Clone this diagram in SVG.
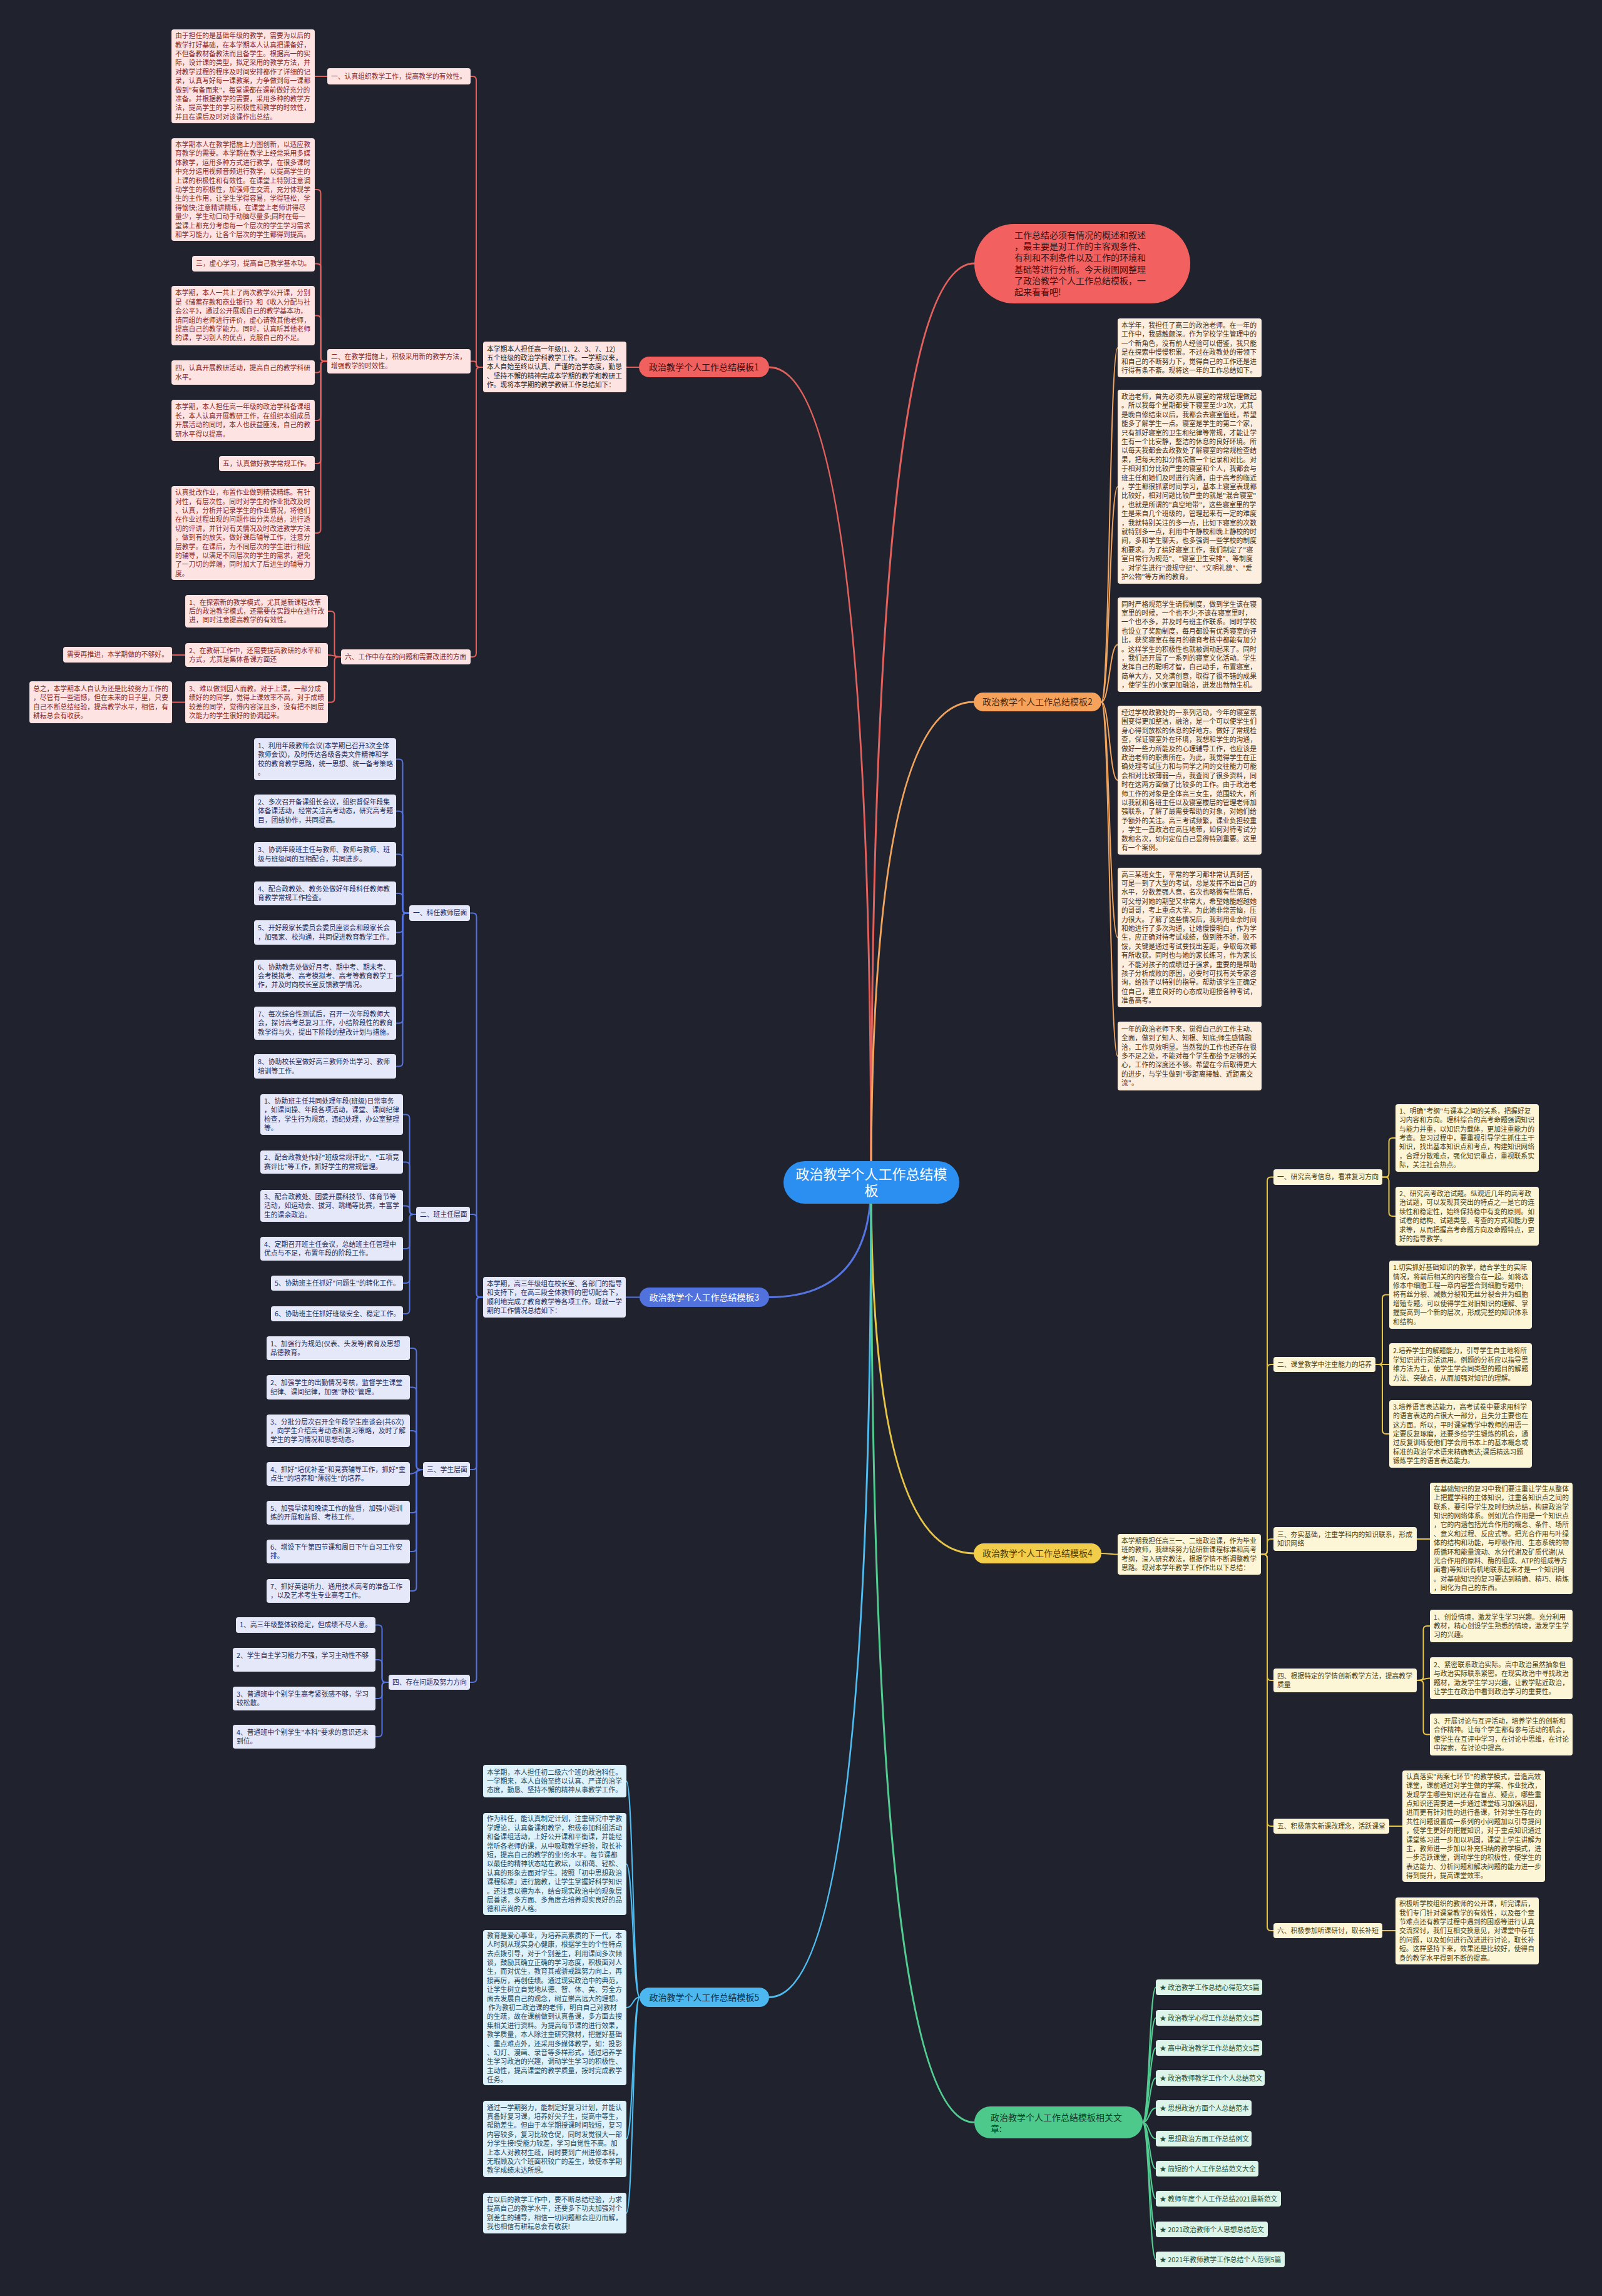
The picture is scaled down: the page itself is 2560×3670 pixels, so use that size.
<svg xmlns="http://www.w3.org/2000/svg" width="2560" height="3670" viewBox="0 0 2560 3670">
<style>
text{font-family:"Noto Sans CJK SC","Noto Sans",sans-serif;}
.f{font-size:10.8px;}
.pt{font-size:14px;}
.c{fill:none;stroke-width:2;stroke-linecap:round;}
.m{fill:none;stroke-width:3;stroke-linecap:round;}
.n1{fill:#fde4e3;}.t1{fill:#8a2a2a;}.c1{stroke:#e2615d;}
.n2{fill:#fdefdf;}.t2{fill:#4b2f16;}.c2{stroke:#f0a45e;}
.n3{fill:#e5e8f8;}.t3{fill:#1f2c5c;}.c3{stroke:#5674e0;}
.n4{fill:#fcf5d6;}.t4{fill:#4d4114;}.c4{stroke:#e6c548;}
.n5{fill:#ddf2fb;}.t5{fill:#24485e;}.c5{stroke:#4fbdf0;}
.n6{fill:#dcf5e8;}.t6{fill:#1f4d37;}.c6{stroke:#52cc90;}
</style>
<rect width="2560" height="3670" fill="#20232e"/>

<g id="connectors">
<path class="m c1" d="M1392,1890 Q1392,421 1557,421"/>
<path class="m c1" d="M1392,1890 Q1392,587 1229,587"/>
<path class="m c2" d="M1392,1890 Q1392,1122 1556,1122"/>
<path class="m c3" d="M1392,1890 Q1392,2073.5 1229,2073.5"/>
<path class="m c4" d="M1392,1890 Q1392,2483 1556,2483"/>
<path class="m c5" d="M1392,1890 Q1392,3192.5 1229,3192.5"/>
<path class="m c6" d="M1392,1890 Q1392,3392.5 1557,3392.5"/>

<path class="c c1" d="M1021,587 H1001"/>
<path class="c c1" d="M772,587 H767 Q761,587 761,581 V128 Q761,122 755,122 H752"/>
<path class="c c1" d="M772,587 H765 Q761,587 761,583 V581.5 Q761,577.5 757,577.5 H752"/>
<path class="c c1" d="M772,587 H767 Q761,587 761,593 V1044 Q761,1050 755,1050 H752"/>
<path class="c c1" d="M523,122 H503"/>
<path class="c c1" d="M523,577.5 H518.5 Q512.5,577.5 512.5,571.5 V309 Q512.5,303 506.5,303 H503"/>
<path class="c c1" d="M523,577.5 H518.5 Q512.5,577.5 512.5,571.5 V427.5 Q512.5,421.5 506.5,421.5 H503"/>
<path class="c c1" d="M523,577.5 H518.5 Q512.5,577.5 512.5,571.5 V510.5 Q512.5,504.5 506.5,504.5 H503"/>
<path class="c c1" d="M523,577.5 H518.5 Q512.5,577.5 512.5,583.5 V589.5 Q512.5,595.5 506.5,595.5 H503"/>
<path class="c c1" d="M523,577.5 H518.5 Q512.5,577.5 512.5,583.5 V666 Q512.5,672 506.5,672 H503"/>
<path class="c c1" d="M523,577.5 H518.5 Q512.5,577.5 512.5,583.5 V735 Q512.5,741 506.5,741 H503"/>
<path class="c c1" d="M523,577.5 H518.5 Q512.5,577.5 512.5,583.5 V846 Q512.5,852 506.5,852 H503"/>
<path class="c c1" d="M545,1050 H540.5 Q534.5,1050 534.5,1044 V983 Q534.5,977 528.5,977 H524"/>
<path class="c c1" d="M545,1050 C534.5,1050 534.5,1047 524,1047"/>
<path class="c c1" d="M545,1050 H540.5 Q534.5,1050 534.5,1056 V1116.5 Q534.5,1122.5 528.5,1122.5 H524"/>
<path class="c c1" d="M296,1047 H275"/>
<path class="c c1" d="M296,1122.5 H275"/>

<path class="c c2" d="M1760,1122 C1773,1122 1773,556 1786,556"/>
<path class="c c2" d="M1760,1122 C1773,1122 1773,778 1786,778"/>
<path class="c c2" d="M1760,1122 C1773,1122 1773,1030.5 1786,1030.5"/>
<path class="c c2" d="M1760,1122 C1773,1122 1773,1247 1786,1247"/>
<path class="c c2" d="M1760,1122 C1773,1122 1773,1498.5 1786,1498.5"/>
<path class="c c2" d="M1760,1122 C1773,1122 1773,1688 1786,1688"/>

<path class="c c3" d="M1022,2073.5 H1000"/>
<path class="c c3" d="M772,2073.5 H767.5 Q761.5,2073.5 761.5,2067.5 V1465.5 Q761.5,1459.5 755.5,1459.5 H751"/>
<path class="c c3" d="M772,2073.5 H767.5 Q761.5,2073.5 761.5,2067.5 V1947 Q761.5,1941 755.5,1941 H751"/>
<path class="c c3" d="M772,2073.5 H767.5 Q761.5,2073.5 761.5,2079.5 V2343 Q761.5,2349 755.5,2349 H751"/>
<path class="c c3" d="M772,2073.5 H767.5 Q761.5,2073.5 761.5,2079.5 V2683 Q761.5,2689 755.5,2689 H751"/>
<path class="c c3" d="M654,1459.5 H649.5 Q643.5,1459.5 643.5,1453.5 V1219.5 Q643.5,1213.5 637.5,1213.5 H633"/>
<path class="c c3" d="M654,1459.5 H649.5 Q643.5,1459.5 643.5,1453.5 V1302.5 Q643.5,1296.5 637.5,1296.5 H633"/>
<path class="c c3" d="M654,1459.5 H649.5 Q643.5,1459.5 643.5,1453.5 V1371.5 Q643.5,1365.5 637.5,1365.5 H633"/>
<path class="c c3" d="M654,1459.5 H649.5 Q643.5,1459.5 643.5,1453.5 V1434 Q643.5,1428 637.5,1428 H633"/>
<path class="c c3" d="M654,1459.5 H649.5 Q643.5,1459.5 643.5,1465.5 V1484.5 Q643.5,1490.5 637.5,1490.5 H633"/>
<path class="c c3" d="M654,1459.5 H649.5 Q643.5,1459.5 643.5,1465.5 V1554 Q643.5,1560 637.5,1560 H633"/>
<path class="c c3" d="M654,1459.5 H649.5 Q643.5,1459.5 643.5,1465.5 V1629.5 Q643.5,1635.5 637.5,1635.5 H633"/>
<path class="c c3" d="M654,1459.5 H649.5 Q643.5,1459.5 643.5,1465.5 V1698.5 Q643.5,1704.5 637.5,1704.5 H633"/>
<path class="c c3" d="M665,1941 H660.5 Q654.5,1941 654.5,1935 V1787.5 Q654.5,1781.5 648.5,1781.5 H644"/>
<path class="c c3" d="M665,1941 H660.5 Q654.5,1941 654.5,1935 V1863.5 Q654.5,1857.5 648.5,1857.5 H644"/>
<path class="c c3" d="M665,1941 H660.5 Q654.5,1941 654.5,1935 V1933.5 Q654.5,1927.5 648.5,1927.5 H644"/>
<path class="c c3" d="M665,1941 H660.5 Q654.5,1941 654.5,1947 V1990 Q654.5,1996 648.5,1996 H644"/>
<path class="c c3" d="M665,1941 H660.5 Q654.5,1941 654.5,1947 V2045 Q654.5,2051 648.5,2051 H644"/>
<path class="c c3" d="M665,1941 H660.5 Q654.5,1941 654.5,1947 V2094 Q654.5,2100 648.5,2100 H644"/>
<path class="c c3" d="M676,2349 H671.5 Q665.5,2349 665.5,2343 V2161 Q665.5,2155 659.5,2155 H655"/>
<path class="c c3" d="M676,2349 H671.5 Q665.5,2349 665.5,2343 V2223.5 Q665.5,2217.5 659.5,2217.5 H655"/>
<path class="c c3" d="M676,2349 H671.5 Q665.5,2349 665.5,2343 V2293 Q665.5,2287 659.5,2287 H655"/>
<path class="c c3" d="M676,2349 C665.5,2349 665.5,2356 655,2356"/>
<path class="c c3" d="M676,2349 H671.5 Q665.5,2349 665.5,2355 V2412 Q665.5,2418 659.5,2418 H655"/>
<path class="c c3" d="M676,2349 H671.5 Q665.5,2349 665.5,2355 V2474 Q665.5,2480 659.5,2480 H655"/>
<path class="c c3" d="M676,2349 H671.5 Q665.5,2349 665.5,2355 V2537 Q665.5,2543 659.5,2543 H655"/>
<path class="c c3" d="M621,2689 H616.5 Q610.5,2689 610.5,2683 V2603.5 Q610.5,2597.5 604.5,2597.5 H600"/>
<path class="c c3" d="M621,2689 H616.5 Q610.5,2689 610.5,2683 V2659 Q610.5,2653 604.5,2653 H600"/>
<path class="c c3" d="M621,2689 H616.5 Q610.5,2689 610.5,2695 V2709 Q610.5,2715 604.5,2715 H600"/>
<path class="c c3" d="M621,2689 H616.5 Q610.5,2689 610.5,2695 V2770 Q610.5,2776 604.5,2776 H600"/>

<path class="c c4" d="M1760,2483 C1773,2483 1773,2484.5 1786,2484.5"/>
<path class="c c4" d="M2015,2484.5 H2019 Q2025,2484.5 2025,2478.5 V1887.5 Q2025,1881.5 2031,1881.5 H2035"/>
<path class="c c4" d="M2015,2484.5 H2019 Q2025,2484.5 2025,2478.5 V2187 Q2025,2181 2031,2181 H2035"/>
<path class="c c4" d="M2015,2484.5 H2019 Q2025,2484.5 2025,2478.5 V2466 Q2025,2460 2031,2460 H2035"/>
<path class="c c4" d="M2015,2484.5 H2019 Q2025,2484.5 2025,2490.5 V2680 Q2025,2686 2031,2686 H2035"/>
<path class="c c4" d="M2015,2484.5 H2019 Q2025,2484.5 2025,2490.5 V2913 Q2025,2919 2031,2919 H2035"/>
<path class="c c4" d="M2015,2484.5 H2019 Q2025,2484.5 2025,2490.5 V3080 Q2025,3086 2031,3086 H2035"/>
<path class="c c4" d="M2209,1881.5 H2213.5 Q2219.5,1881.5 2219.5,1875.5 V1825 Q2219.5,1819 2225.5,1819 H2230"/>
<path class="c c4" d="M2209,1881.5 H2213.5 Q2219.5,1881.5 2219.5,1887.5 V1938 Q2219.5,1944 2225.5,1944 H2230"/>
<path class="c c4" d="M2198,2181 H2203 Q2209,2181 2209,2175 V2075.5 Q2209,2069.5 2215,2069.5 H2220"/>
<path class="c c4" d="M2198,2181 H2220"/>
<path class="c c4" d="M2198,2181 H2203 Q2209,2181 2209,2187 V2286 Q2209,2292 2215,2292 H2220"/>
<path class="c c4" d="M2264,2460 H2285"/>
<path class="c c4" d="M2264,2686 H2268.5 Q2274.5,2686 2274.5,2680 V2605 Q2274.5,2599 2280.5,2599 H2285"/>
<path class="c c4" d="M2264,2686 C2274.5,2686 2274.5,2682.5 2285,2682.5"/>
<path class="c c4" d="M2264,2686 H2268.5 Q2274.5,2686 2274.5,2692 V2766.5 Q2274.5,2772.5 2280.5,2772.5 H2285"/>
<path class="c c4" d="M2220,2919 H2241"/>
<path class="c c4" d="M2209,3086 H2230"/>

<path class="c c5" d="M1022,3192.5 C1011.5,3192.5 1011.5,2847 1001,2847"/>
<path class="c c5" d="M1022,3192.5 C1011.5,3192.5 1011.5,2979.5 1001,2979.5"/>
<path class="c c5" d="M1022,3192.5 C1011.5,3192.5 1011.5,3209 1001,3209"/>
<path class="c c5" d="M1022,3192.5 C1011.5,3192.5 1011.5,3419 1001,3419"/>
<path class="c c5" d="M1022,3192.5 C1011.5,3192.5 1011.5,3537.5 1001,3537.5"/>

<path class="c c6" d="M1826,3392.5 C1836.5,3392.5 1836.5,3176.5 1847,3176.5"/>
<path class="c c6" d="M1826,3392.5 C1836.5,3392.5 1836.5,3225.5 1847,3225.5"/>
<path class="c c6" d="M1826,3392.5 C1836.5,3392.5 1836.5,3273.5 1847,3273.5"/>
<path class="c c6" d="M1826,3392.5 C1836.5,3392.5 1836.5,3321.5 1847,3321.5"/>
<path class="c c6" d="M1826,3392.5 C1836.5,3392.5 1836.5,3369.5 1847,3369.5"/>
<path class="c c6" d="M1826,3392.5 C1836.5,3392.5 1836.5,3418.5 1847,3418.5"/>
<path class="c c6" d="M1826,3392.5 C1836.5,3392.5 1836.5,3466.5 1847,3466.5"/>
<path class="c c6" d="M1826,3392.5 C1836.5,3392.5 1836.5,3514.5 1847,3514.5"/>
<path class="c c6" d="M1826,3392.5 C1836.5,3392.5 1836.5,3563.5 1847,3563.5"/>
<path class="c c6" d="M1826,3392.5 C1836.5,3392.5 1836.5,3611.5 1847,3611.5"/>
</g>

<g id="center"><rect x="1252" y="1856" width="281" height="68" rx="34" fill="#2a8ff0"/><text x="1392.5" y="1885" font-size="22" fill="#ffffff" text-anchor="middle"><tspan x="1392.5">政治教学个人工作总结模</tspan><tspan x="1392.5" dy="26">板</tspan></text></g>

<g id="intro-bubble"><rect x="1557" y="358" width="345" height="127" rx="63.5" fill="#f2615f"/><text class="pt" x="1621" y="381" fill="#3a1414"><tspan x="1621">工作总结必须有情况的概述和叙述</tspan><tspan x="1621" dy="18.2">，最主要是对工作的主客观条件、</tspan><tspan x="1621" dy="18.2">有利和不利条件以及工作的环境和</tspan><tspan x="1621" dy="18.2">基础等进行分析。今天树图网整理</tspan><tspan x="1621" dy="18.2">了政治教学个人工作总结模板，一</tspan><tspan x="1621" dy="18.2">起来看看吧!</tspan></text></g>

<!-- Branch 1 -->
<g id="b1"><rect x="1021" y="570" width="208" height="33" rx="16.5" fill="#f0605e"/><text class="pt" x="1125" y="591.5" fill="#3a1010" text-anchor="middle">政治教学个人工作总结模板1</text></g>
<g id="b1-intro"><rect class="n1" x="772" y="546" width="229" height="81" rx="4"/><text class="f" fill="#262626" x="778" y="561.6"><tspan x="778">本学期本人担任高一年级(1、2、3、7、12)</tspan><tspan x="778" dy="14.4">五个班级的政治学科教学工作。一学期以来，</tspan><tspan x="778" dy="14.4">本人自始至终以认真、严谨的治学态度，勤恳</tspan><tspan x="778" dy="14.4">、坚持不懈的精神完成本学期的教学和教研工</tspan><tspan x="778" dy="14.4">作。现将本学期的教学教研工作总结如下：</tspan></text></g>
<g id="b1-s1"><rect class="n1" x="523" y="109" width="229" height="26" rx="4"/><text class="f t1" x="529" y="125.9">一、认真组织教学工作，提高教学的有效性。</text></g>
<g id="b1-l1"><rect class="n1" x="274" y="47" width="229" height="150" rx="4"/><text class="f t1" x="280" y="61.1"><tspan x="280">由于担任的是基础年级的教学，需要为以后的</tspan><tspan x="280" dy="14.4">教学打好基础，在本学期本人认真把课备好，</tspan><tspan x="280" dy="14.4">不但备教材备教法而且备学生。根据高一的实</tspan><tspan x="280" dy="14.4">际，设计课的类型，拟定采用的教学方法，并</tspan><tspan x="280" dy="14.4">对教学过程的程序及时间安排都作了详细的记</tspan><tspan x="280" dy="14.4">录，认真写好每一课教案，力争做到每一课都</tspan><tspan x="280" dy="14.4">做到"有备而来"，每堂课都在课前做好充分的</tspan><tspan x="280" dy="14.4">准备。并根据教学的需要，采用多种的教学方</tspan><tspan x="280" dy="14.4">法，提高学生的学习积极性和教学的时效性，</tspan><tspan x="280" dy="14.4">并且在课后及时对该课作出总结。</tspan></text></g>
<g id="b1-s2"><rect class="n1" x="523" y="558" width="229" height="39" rx="4"/><text class="f t1" x="529" y="574.2"><tspan x="529">二、在教学措施上，积极采用新的教学方法，</tspan><tspan x="529" dy="14.4">增强教学的时效性。</tspan></text></g>
<g id="b1-l2a"><rect class="n1" x="274" y="221" width="229" height="164" rx="4"/><text class="f t1" x="280" y="234.9"><tspan x="280">本学期本人在教学措施上力图创新，以适应教</tspan><tspan x="280" dy="14.4">育教学的需要。本学期在教学上经常采用多媒</tspan><tspan x="280" dy="14.4">体教学，运用多种方式进行教学，在很多课时</tspan><tspan x="280" dy="14.4">中充分运用视频音频进行教学，以提高学生的</tspan><tspan x="280" dy="14.4">上课的积极性和有效性。在课堂上特别注意调</tspan><tspan x="280" dy="14.4">动学生的积极性，加强师生交流，充分体现学</tspan><tspan x="280" dy="14.4">生的主作用，让学生学得容易，学得轻松，学</tspan><tspan x="280" dy="14.4">得愉快;注意精讲精练，在课堂上老师讲得尽</tspan><tspan x="280" dy="14.4">量少，学生动口动手动脑尽量多;同时在每一</tspan><tspan x="280" dy="14.4">堂课上都充分考虑每一个层次的学生学习需求</tspan><tspan x="280" dy="14.4">和学习能力，让各个层次的学生都得到提高。</tspan></text></g>
<g id="b1-l2b"><rect class="n1" x="307" y="409" width="196" height="25" rx="4"/><text class="f t1" x="313" y="425.4">三，虚心学习，提高自己教学基本功。</text></g>
<g id="b1-l2c"><rect class="n1" x="274" y="457" width="229" height="95" rx="4"/><text class="f t1" x="280" y="472.4"><tspan x="280">本学期，本人一共上了两次教学公开课，分别</tspan><tspan x="280" dy="14.4">是《储蓄存款和商业银行》和《收入分配与社</tspan><tspan x="280" dy="14.4">会公平》，通过公开展现自己的教学基本功，</tspan><tspan x="280" dy="14.4">请同组的老师进行评价，虚心请教其他老师，</tspan><tspan x="280" dy="14.4">提高自己的教学能力。同时，认真听其他老师</tspan><tspan x="280" dy="14.4">的课，学习别人的优点，克服自己的不足。</tspan></text></g>
<g id="b1-l2d"><rect class="n1" x="274" y="576" width="229" height="39" rx="4"/><text class="f t1" x="280" y="592.2"><tspan x="280">四，认真开展教研活动，提高自己的教学科研</tspan><tspan x="280" dy="14.4">水平。</tspan></text></g>
<g id="b1-l2e"><rect class="n1" x="274" y="639" width="229" height="66" rx="4"/><text class="f t1" x="280" y="654.3"><tspan x="280">本学期，本人担任高一年级的政治学科备课组</tspan><tspan x="280" dy="14.4">长，本人认真开展教研工作，在组织本组成员</tspan><tspan x="280" dy="14.4">开展活动的同时，本人也获益匪浅，自己的教</tspan><tspan x="280" dy="14.4">研水平得以提高。</tspan></text></g>
<g id="b1-l2f"><rect class="n1" x="350" y="729" width="153" height="24" rx="4"/><text class="f t1" x="356" y="744.9">五，认真做好教学常规工作。</text></g>
<g id="b1-l2g"><rect class="n1" x="274" y="777" width="229" height="150" rx="4"/><text class="f t1" x="280" y="791.1"><tspan x="280">认真批改作业，布置作业做到精读精练。有针</tspan><tspan x="280" dy="14.4">对性，有层次性。同时对学生的作业批改及时</tspan><tspan x="280" dy="14.4">、认真，分析并记录学生的作业情况，将他们</tspan><tspan x="280" dy="14.4">在作业过程出现的问题作出分类总结，进行透</tspan><tspan x="280" dy="14.4">切的评讲，并针对有关情况及时改进教学方法</tspan><tspan x="280" dy="14.4">，做到有的放矢。做好课后辅导工作，注意分</tspan><tspan x="280" dy="14.4">层教学。在课后，为不同层次的学生进行相应</tspan><tspan x="280" dy="14.4">的辅导，以满足不同层次的学生的需求，避免</tspan><tspan x="280" dy="14.4">了一刀切的弊端，同时加大了后进生的辅导力</tspan><tspan x="280" dy="14.4">度。</tspan></text></g>
<g id="b1-s6"><rect class="n1" x="545" y="1038" width="207" height="24" rx="4"/><text class="f t1" x="551" y="1053.9">六、工作中存在的问题和需要改进的方面</text></g>
<g id="b1-p1"><rect class="n1" x="296" y="951" width="228" height="52" rx="4"/><text class="f t1" x="302" y="966.5"><tspan x="302">1、在探索新的教学模式，尤其是新课程改革</tspan><tspan x="302" dy="14.4">后的政治教学模式，还需要在实践中在进行改</tspan><tspan x="302" dy="14.4">进，同时注意提高教学的有效性。</tspan></text></g>
<g id="b1-p2"><rect class="n1" x="296" y="1028" width="228" height="38" rx="4"/><text class="f t1" x="302" y="1043.7"><tspan x="302">2、在教研工作中，还需要提高教研的水平和</tspan><tspan x="302" dy="14.4">方式，尤其是集体备课方面还</tspan></text></g>
<g id="b1-p3"><rect class="n1" x="296" y="1089" width="228" height="67" rx="4"/><text class="f t1" x="302" y="1104.8"><tspan x="302">3、难以做到因人而教。对于上课，一部分成</tspan><tspan x="302" dy="14.4">绩好的的同学，觉得上课效率不高，对于成绩</tspan><tspan x="302" dy="14.4">较差的同学，觉得内容深且多，没有把不同层</tspan><tspan x="302" dy="14.4">次能力的学生很好的协调起来。</tspan></text></g>
<g id="b1-p2c"><rect class="n1" x="101" y="1034" width="174" height="25" rx="4"/><text class="f t1" x="107" y="1050.4">需要再推进，本学期做的不够好。</text></g>
<g id="b1-p3c"><rect class="n1" x="47" y="1089" width="228" height="67" rx="4"/><text class="f t1" x="53" y="1104.8"><tspan x="53">总之，本学期本人自认为还是比较努力工作的</tspan><tspan x="53" dy="14.4">，尽管有一些遗憾，但在未来的日子里，只要</tspan><tspan x="53" dy="14.4">自己不断总结经验，提高教学水平，相信，有</tspan><tspan x="53" dy="14.4">耕耘总会有收获。</tspan></text></g>

<!-- Branch 2 -->
<g id="b2"><rect x="1556" y="1107" width="204" height="30" rx="15" fill="#f6a25a"/><text class="pt" x="1658" y="1127" fill="#4a2a10" text-anchor="middle">政治教学个人工作总结模板2</text></g>
<g id="b2-l1"><rect class="n2" x="1786" y="509" width="230" height="94" rx="4"/><text class="f t2" x="1792" y="523.9"><tspan x="1792">本学年，我担任了高三的政治老师。在一年的</tspan><tspan x="1792" dy="14.4">工作中，我感触颇深。作为学校学生管理中的</tspan><tspan x="1792" dy="14.4">一个新角色，没有前人经验可以借鉴，我只能</tspan><tspan x="1792" dy="14.4">是在探索中慢慢积累。不过在政教处的带领下</tspan><tspan x="1792" dy="14.4">和自己的不断努力下，觉得自己的工作还是进</tspan><tspan x="1792" dy="14.4">行得有条不紊。现将这一年的工作总结如下。</tspan></text></g>
<g id="b2-l2"><rect class="n2" x="1786" y="623" width="230" height="310" rx="4"/><text class="f t2" x="1792" y="637.9"><tspan x="1792">政治老师，首先必须先从寝室的常规管理做起</tspan><tspan x="1792" dy="14.4">。所以我每个星期都要下寝室至少3次，尤其</tspan><tspan x="1792" dy="14.4">是晚自修结束以后，我都会去寝室值班，希望</tspan><tspan x="1792" dy="14.4">能多了解学生一点。寝室是学生的第二个家，</tspan><tspan x="1792" dy="14.4">只有抓好寝室的卫生和纪律等常规，才能让学</tspan><tspan x="1792" dy="14.4">生有一个比安静，整洁的休息的良好环境。所</tspan><tspan x="1792" dy="14.4">以每天我都会去政教处了解寝室的常规检查结</tspan><tspan x="1792" dy="14.4">果，把每天的扣分情况做一个记录和对比。对</tspan><tspan x="1792" dy="14.4">于相对扣分比较严重的寝室和个人，我都会与</tspan><tspan x="1792" dy="14.4">班主任和她们及时进行沟通，由于高考的临近</tspan><tspan x="1792" dy="14.4">，学生都很抓紧时间学习，基本上寝室表现都</tspan><tspan x="1792" dy="14.4">比较好，相对问题比较严重的就是"混合寝室"</tspan><tspan x="1792" dy="14.4">，也就是所谓的"真空地带"，这些寝室里的学</tspan><tspan x="1792" dy="14.4">生是来自几个班级的，管理起来有一定的难度</tspan><tspan x="1792" dy="14.4">，我就特别关注的多一点，比如下寝室的次数</tspan><tspan x="1792" dy="14.4">就特别多一点，利用中午静校和晚上静校的时</tspan><tspan x="1792" dy="14.4">间，多和学生聊天，也多强调一些学校的制度</tspan><tspan x="1792" dy="14.4">和要求。为了搞好寝室工作，我们制定了"寝</tspan><tspan x="1792" dy="14.4">室日常行为规范"、"寝室卫生安排"、等制度</tspan><tspan x="1792" dy="14.4">。对学生进行"遵规守纪"、"文明礼貌"、"爱</tspan><tspan x="1792" dy="14.4">护公物"等方面的教育。</tspan></text></g>
<g id="b2-l3"><rect class="n2" x="1786" y="955" width="230" height="151" rx="4"/><text class="f t2" x="1792" y="969.6"><tspan x="1792">同时严格规范学生请假制度，做到学生该在寝</tspan><tspan x="1792" dy="14.4">室里的时候，一个也不少;不该在寝室里时，</tspan><tspan x="1792" dy="14.4">一个也不多，并及时与班主作联系。同时学校</tspan><tspan x="1792" dy="14.4">也设立了奖励制度，每月都设有优秀寝室的评</tspan><tspan x="1792" dy="14.4">比，获奖寝室在每月的德育考核中都能有加分</tspan><tspan x="1792" dy="14.4">。这样学生的积极性也就被调动起来了。同时</tspan><tspan x="1792" dy="14.4">，我们还开展了一系列的寝室文化活动。学生</tspan><tspan x="1792" dy="14.4">发挥自己的聪明才智，自己动手，布置寝室，</tspan><tspan x="1792" dy="14.4">简单大方，又充满创意，取得了很不错的成果</tspan><tspan x="1792" dy="14.4">，使学生的小家更加融洽，迸发出勃勃生机。</tspan></text></g>
<g id="b2-l4"><rect class="n2" x="1786" y="1128" width="230" height="238" rx="4"/><text class="f t2" x="1792" y="1142.9"><tspan x="1792">经过学校政教处的一系列活动，今年的寝室氛</tspan><tspan x="1792" dy="14.4">围变得更加整洁，融洽，是一个可以使学生们</tspan><tspan x="1792" dy="14.4">身心得到放松的休息的好地方。做好了常规检</tspan><tspan x="1792" dy="14.4">查，保证寝室外在环境，我想和学生的沟通，</tspan><tspan x="1792" dy="14.4">做好一些力所能及的心理辅导工作，也应该是</tspan><tspan x="1792" dy="14.4">政治老师的职责所在。为此，我觉得学生在正</tspan><tspan x="1792" dy="14.4">确处理考试压力和与同学之间的交往能力可能</tspan><tspan x="1792" dy="14.4">会相对比较薄弱一点，我查阅了很多资料，同</tspan><tspan x="1792" dy="14.4">时在这两方面做了比较多的工作。由于政治老</tspan><tspan x="1792" dy="14.4">师工作的对象是全体高三女生，范围较大，所</tspan><tspan x="1792" dy="14.4">以我就和各班主任以及寝室楼层的管理老师加</tspan><tspan x="1792" dy="14.4">强联系，了解了最需要帮助的对象，对她们给</tspan><tspan x="1792" dy="14.4">予额外的关注。高三考试频繁，课业负担较重</tspan><tspan x="1792" dy="14.4">，学生一直政治在高压地带，如何对待考试分</tspan><tspan x="1792" dy="14.4">数和名次，如何定位自己显得特别重要。这里</tspan><tspan x="1792" dy="14.4">有一个案例。</tspan></text></g>
<g id="b2-l5"><rect class="n2" x="1786" y="1387" width="230" height="223" rx="4"/><text class="f t2" x="1792" y="1401.6"><tspan x="1792">高三某班女生，平常的学习都非常认真刻苦，</tspan><tspan x="1792" dy="14.4">可是一到了大型的考试，总是发挥不出自己的</tspan><tspan x="1792" dy="14.4">水平，分数差强人意，名次也略微有些落后，</tspan><tspan x="1792" dy="14.4">可父母对她的期望又非常大，希望她能超越她</tspan><tspan x="1792" dy="14.4">的哥哥，考上重点大学。为此她非常苦恼，压</tspan><tspan x="1792" dy="14.4">力很大。了解了这些情况后，我利用业余时间</tspan><tspan x="1792" dy="14.4">和她进行了多次沟通，让她慢慢明白，作为学</tspan><tspan x="1792" dy="14.4">生，应正确对待考试成绩，做到胜不骄，败不</tspan><tspan x="1792" dy="14.4">馁，关键是通过考试要找出差距，争取每次都</tspan><tspan x="1792" dy="14.4">有所收获。同时也与她的家长练习，作为家长</tspan><tspan x="1792" dy="14.4">，不能对孩子的成绩过于强求，重要的是帮助</tspan><tspan x="1792" dy="14.4">孩子分析成败的原因，必要时可找有关专家咨</tspan><tspan x="1792" dy="14.4">询，给孩子以特别的指导。帮助该学生正确定</tspan><tspan x="1792" dy="14.4">位自己，建立良好的心态成功迎接各种考试，</tspan><tspan x="1792" dy="14.4">准备高考。</tspan></text></g>
<g id="b2-l6"><rect class="n2" x="1786" y="1633" width="230" height="110" rx="4"/><text class="f t2" x="1792" y="1648.7"><tspan x="1792">一年的政治老师下来，觉得自己的工作主动、</tspan><tspan x="1792" dy="14.4">全面，做到了知人、知根、知底;师生感情融</tspan><tspan x="1792" dy="14.4">洽，工作见效明显。当然我的工作也还存在很</tspan><tspan x="1792" dy="14.4">多不足之处，不能对每个学生都给予足够的关</tspan><tspan x="1792" dy="14.4">心，工作的深度还不够。希望在今后取得更大</tspan><tspan x="1792" dy="14.4">的进步，与学生做到"零距离接触、近距离交</tspan><tspan x="1792" dy="14.4">流"。</tspan></text></g>

<!-- Branch 3 -->
<g id="b3"><rect x="1022" y="2058" width="207" height="31" rx="15.5" fill="#5171dd"/><text class="pt" x="1125.5" y="2078.5" fill="#ffffff" text-anchor="middle">政治教学个人工作总结模板3</text></g>
<g id="b3-intro"><rect class="n3" x="772" y="2041" width="228" height="65" rx="4"/><text class="f t3" x="778" y="2055.8"><tspan x="778">本学期，高三年级组在校长室、各部门的指导</tspan><tspan x="778" dy="14.4">和支持下，在高三段全体教师的密切配合下，</tspan><tspan x="778" dy="14.4">顺利地完成了教育教学等各项工作。现就一学</tspan><tspan x="778" dy="14.4">期的工作情况总结如下：</tspan></text></g>
<g id="b3-s1"><rect class="n3" x="654" y="1447" width="97" height="25" rx="4"/><text class="f t3" x="660" y="1463.4">一、科任教师层面</text></g>
<g id="b3-s1-1"><rect class="n3" x="406" y="1180" width="227" height="67" rx="4"/><text class="f t3" x="412" y="1195.8"><tspan x="412">1、利用年段教师会议(本学期已召开3次全体</tspan><tspan x="412" dy="14.4">教师会议)，及时传达各级各类文件精神和学</tspan><tspan x="412" dy="14.4">校的教育教学思路，统一思想、统一备考策略</tspan><tspan x="412" dy="14.4">。</tspan></text></g>
<g id="b3-s1-2"><rect class="n3" x="406" y="1270" width="227" height="53" rx="4"/><text class="f t3" x="412" y="1286"><tspan x="412">2、多次召开备课组长会议，组织督促年段集</tspan><tspan x="412" dy="14.4">体备课活动，经常关注高考动态，研究高考题</tspan><tspan x="412" dy="14.4">目，团结协作，共同提高。</tspan></text></g>
<g id="b3-s1-3"><rect class="n3" x="406" y="1346" width="227" height="39" rx="4"/><text class="f t3" x="412" y="1362.2"><tspan x="412">3、协调年段班主任与教师、教师与教师、班</tspan><tspan x="412" dy="14.4">级与班级间的互相配合，共同进步。</tspan></text></g>
<g id="b3-s1-4"><rect class="n3" x="406" y="1409" width="227" height="38" rx="4"/><text class="f t3" x="412" y="1424.7"><tspan x="412">4、配合政教处、教务处做好年段科任教师教</tspan><tspan x="412" dy="14.4">育教学常规工作检查。</tspan></text></g>
<g id="b3-s1-5"><rect class="n3" x="406" y="1471" width="227" height="39" rx="4"/><text class="f t3" x="412" y="1487.2"><tspan x="412">5、开好段家长委员会委员座谈会和段家长会</tspan><tspan x="412" dy="14.4">，加强家、校沟通，共同促进教育教学工作。</tspan></text></g>
<g id="b3-s1-6"><rect class="n3" x="406" y="1534" width="227" height="52" rx="4"/><text class="f t3" x="412" y="1549.5"><tspan x="412">6、协助教务处做好月考、期中考、期末考、</tspan><tspan x="412" dy="14.4">会考模拟考、高考模拟考、高考等教育教学工</tspan><tspan x="412" dy="14.4">作，并及时向校长室反馈教学情况。</tspan></text></g>
<g id="b3-s1-7"><rect class="n3" x="406" y="1609" width="227" height="53" rx="4"/><text class="f t3" x="412" y="1625"><tspan x="412">7、每次综合性测试后，召开一次年段教师大</tspan><tspan x="412" dy="14.4">会，探讨高考总复习工作，小结阶段性的教育</tspan><tspan x="412" dy="14.4">教学得与失，提出下阶段的整改计划与措施。</tspan></text></g>
<g id="b3-s1-8"><rect class="n3" x="406" y="1685" width="227" height="39" rx="4"/><text class="f t3" x="412" y="1701.2"><tspan x="412">8、协助校长室做好高三教师外出学习、教师</tspan><tspan x="412" dy="14.4">培训等工作。</tspan></text></g>
<g id="b3-s2"><rect class="n3" x="665" y="1929" width="86" height="24" rx="4"/><text class="f t3" x="671" y="1944.9">二、班主任层面</text></g>
<g id="b3-s2-1"><rect class="n3" x="416" y="1749" width="228" height="65" rx="4"/><text class="f t3" x="422" y="1763.8"><tspan x="422">1、协助班主任共同处理年段(班级)日常事务</tspan><tspan x="422" dy="14.4">，如课间操、年段各项活动，课堂、课间纪律</tspan><tspan x="422" dy="14.4">检查，学生行为规范，违纪处理，办公室整理</tspan><tspan x="422" dy="14.4">等。</tspan></text></g>
<g id="b3-s2-2"><rect class="n3" x="416" y="1839" width="228" height="37" rx="4"/><text class="f t3" x="422" y="1854.2"><tspan x="422">2、配合政教处作好"班级常规评比"、"五项竞</tspan><tspan x="422" dy="14.4">赛评比"等工作，抓好学生的常规管理。</tspan></text></g>
<g id="b3-s2-3"><rect class="n3" x="416" y="1902" width="228" height="51" rx="4"/><text class="f t3" x="422" y="1917"><tspan x="422">3、配合政教处、团委开展科技节、体育节等</tspan><tspan x="422" dy="14.4">活动，如运动会、拔河、跳绳等比赛，丰富学</tspan><tspan x="422" dy="14.4">生的课余政治。</tspan></text></g>
<g id="b3-s2-4"><rect class="n3" x="416" y="1977" width="228" height="38" rx="4"/><text class="f t3" x="422" y="1992.7"><tspan x="422">4、定期召开班主任会议，总结班主任管理中</tspan><tspan x="422" dy="14.4">优点与不足，布置年段的阶段工作。</tspan></text></g>
<g id="b3-s2-5"><rect class="n3" x="433" y="2039" width="211" height="24" rx="4"/><text class="f t3" x="439" y="2054.9">5、协助班主任抓好"问题生"的转化工作。</text></g>
<g id="b3-s2-6"><rect class="n3" x="433" y="2088" width="211" height="24" rx="4"/><text class="f t3" x="439" y="2103.9">6、协助班主任抓好班级安全、稳定工作。</text></g>
<g id="b3-s3"><rect class="n3" x="676" y="2337" width="75" height="24" rx="4"/><text class="f t3" x="682" y="2352.9">三、学生层面</text></g>
<g id="b3-s3-1"><rect class="n3" x="426" y="2136" width="229" height="38" rx="4"/><text class="f t3" x="432" y="2151.7"><tspan x="432">1、加强行为规范(仪表、头发等)教育及思想</tspan><tspan x="432" dy="14.4">品德教育。</tspan></text></g>
<g id="b3-s3-2"><rect class="n3" x="426" y="2198" width="229" height="39" rx="4"/><text class="f t3" x="432" y="2214.2"><tspan x="432">2、加强学生的出勤情况考核，监督学生课堂</tspan><tspan x="432" dy="14.4">纪律、课间纪律，加强"静校"管理。</tspan></text></g>
<g id="b3-s3-3"><rect class="n3" x="426" y="2261" width="229" height="52" rx="4"/><text class="f t3" x="432" y="2276.5"><tspan x="432">3、分批分层次召开全年段学生座谈会(共6次)</tspan><tspan x="432" dy="14.4">，向学生介绍高考动态和复习策略，及时了解</tspan><tspan x="432" dy="14.4">学生的学习情况和思想动态。</tspan></text></g>
<g id="b3-s3-4"><rect class="n3" x="426" y="2337" width="229" height="38" rx="4"/><text class="f t3" x="432" y="2352.7"><tspan x="432">4、抓好"培优补差"和竞赛辅导工作，抓好"重</tspan><tspan x="432" dy="14.4">点生"的培养和"薄弱生"的培养。</tspan></text></g>
<g id="b3-s3-5"><rect class="n3" x="426" y="2399" width="229" height="38" rx="4"/><text class="f t3" x="432" y="2414.7"><tspan x="432">5、加强早读和晚读工作的监督，加强小题训</tspan><tspan x="432" dy="14.4">练的开展和监督、考核工作。</tspan></text></g>
<g id="b3-s3-6"><rect class="n3" x="426" y="2461" width="229" height="38" rx="4"/><text class="f t3" x="432" y="2476.7"><tspan x="432">6、增设下午第四节课和周日下午自习工作安</tspan><tspan x="432" dy="14.4">排。</tspan></text></g>
<g id="b3-s3-7"><rect class="n3" x="426" y="2524" width="229" height="38" rx="4"/><text class="f t3" x="432" y="2539.7"><tspan x="432">7、抓好英语听力、通用技术高考的准备工作</tspan><tspan x="432" dy="14.4">，以及艺术考生专业高考工作。</tspan></text></g>
<g id="b3-s4"><rect class="n3" x="621" y="2677" width="130" height="24" rx="4"/><text class="f t3" x="627" y="2692.9">四、存在问题及努力方向</text></g>
<g id="b3-s4-1"><rect class="n3" x="377" y="2585" width="223" height="25" rx="4"/><text class="f t3" x="383" y="2601.4">1、高三年级整体较稳定，但成绩不尽人意。</text></g>
<g id="b3-s4-2"><rect class="n3" x="372" y="2634" width="228" height="38" rx="4"/><text class="f t3" x="378" y="2649.7"><tspan x="378">2、学生自主学习能力不强，学习主动性不够</tspan><tspan x="378" dy="14.4">。</tspan></text></g>
<g id="b3-s4-3"><rect class="n3" x="372" y="2696" width="228" height="38" rx="4"/><text class="f t3" x="378" y="2711.7"><tspan x="378">3、普通班中个别学生高考紧张感不够，学习</tspan><tspan x="378" dy="14.4">较松散。</tspan></text></g>
<g id="b3-s4-4"><rect class="n3" x="372" y="2757" width="228" height="38" rx="4"/><text class="f t3" x="378" y="2772.7"><tspan x="378">4、普通班中个别学生"本科"要求的意识还未</tspan><tspan x="378" dy="14.4">到位。</tspan></text></g>

<!-- Branch 4 -->
<g id="b4"><rect x="1556" y="2467" width="204" height="32" rx="16" fill="#f2cd4a"/><text class="pt" x="1658" y="2488" fill="#4a3a00" text-anchor="middle">政治教学个人工作总结模板4</text></g>
<g id="b4-intro"><rect class="n4" x="1786" y="2452" width="229" height="65" rx="4"/><text class="f t4" x="1792" y="2466.8"><tspan x="1792">本学期我担任高三一、二班政治课，作为毕业</tspan><tspan x="1792" dy="14.4">班的教师，我继续努力钻研新课程标准和高考</tspan><tspan x="1792" dy="14.4">考纲，深入研究教法，根据学情不断调整教学</tspan><tspan x="1792" dy="14.4">思路。现对本学年教学工作作出以下总结：</tspan></text></g>
<g id="b4-s1"><rect class="n4" x="2035" y="1869" width="174" height="25" rx="4"/><text class="f t4" x="2041" y="1885.4">一、研究高考信息，看准复习方向</text></g>
<g id="b4-s1-1"><rect class="n4" x="2230" y="1765" width="229" height="108" rx="4"/><text class="f t4" x="2236" y="1779.7"><tspan x="2236">1、明确"考纲"与课本之间的关系，把握好复</tspan><tspan x="2236" dy="14.4">习内容和方向。理科综合的高考命题强调知识</tspan><tspan x="2236" dy="14.4">与能力并重，以知识为载体，更加注重能力的</tspan><tspan x="2236" dy="14.4">考查。复习过程中，要重视引导学生抓住主干</tspan><tspan x="2236" dy="14.4">知识，找出基本知识点和考点，构建知识网络</tspan><tspan x="2236" dy="14.4">，合理分散难点，强化知识重点，重视联系实</tspan><tspan x="2236" dy="14.4">际，关注社会热点。</tspan></text></g>
<g id="b4-s1-2"><rect class="n4" x="2230" y="1897" width="229" height="94" rx="4"/><text class="f t4" x="2236" y="1911.9"><tspan x="2236">2、研究高考政治试题。纵观近几年的高考政</tspan><tspan x="2236" dy="14.4">治试题，可以发现其突出的特点之一是它的连</tspan><tspan x="2236" dy="14.4">续性和稳定性，始终保持稳中有变的原则。如</tspan><tspan x="2236" dy="14.4">试卷的结构、试题类型、考查的方式和能力要</tspan><tspan x="2236" dy="14.4">求等，从而把握高考命题方向及命题特点，更</tspan><tspan x="2236" dy="14.4">好的指导教学。</tspan></text></g>
<g id="b4-s2"><rect class="n4" x="2035" y="2169" width="163" height="24" rx="4"/><text class="f t4" x="2041" y="2184.9">二、课堂教学中注重能力的培养</text></g>
<g id="b4-s2-1"><rect class="n4" x="2220" y="2015" width="228" height="109" rx="4"/><text class="f t4" x="2226" y="2030.2"><tspan x="2226">1.切实抓好基础知识的教学，结合学生的实际</tspan><tspan x="2226" dy="14.4">情况，将前后相关的内容整合在一起。如将选</tspan><tspan x="2226" dy="14.4">修本中细胞工程一章内容整合到细胞专题中;</tspan><tspan x="2226" dy="14.4">将有丝分裂、减数分裂和无丝分裂合并为细胞</tspan><tspan x="2226" dy="14.4">增殖专题。可以使得学生对旧知识的理解、掌</tspan><tspan x="2226" dy="14.4">握提高到一个新的层次，形成完整的知识体系</tspan><tspan x="2226" dy="14.4">和结构。</tspan></text></g>
<g id="b4-s2-2"><rect class="n4" x="2220" y="2147" width="228" height="68" rx="4"/><text class="f t4" x="2226" y="2163.3"><tspan x="2226">2.培养学生的解题能力，引导学生自主地将所</tspan><tspan x="2226" dy="14.4">学知识进行灵活运用。例题的分析应以指导思</tspan><tspan x="2226" dy="14.4">维方法为主，使学生学会同类型的题目的解题</tspan><tspan x="2226" dy="14.4">方法、突破点，从而加强对知识的理解。</tspan></text></g>
<g id="b4-s2-3"><rect class="n4" x="2220" y="2238" width="228" height="108" rx="4"/><text class="f t4" x="2226" y="2252.7"><tspan x="2226">3.培养语言表达能力，高考试卷中要求用科学</tspan><tspan x="2226" dy="14.4">的语言表达的占很大一部分，且失分主要也在</tspan><tspan x="2226" dy="14.4">这方面。所以，平时课堂教学中教师的用语一</tspan><tspan x="2226" dy="14.4">定要反复琢磨，还要多给学生锻炼的机会，通</tspan><tspan x="2226" dy="14.4">过反复训练使他们学会用书本上的基本概念或</tspan><tspan x="2226" dy="14.4">标准的政治学术语来精确表达;课后精选习题</tspan><tspan x="2226" dy="14.4">锻炼学生的语言表达能力。</tspan></text></g>
<g id="b4-s3"><rect class="n4" x="2035" y="2441" width="229" height="38" rx="4"/><text class="f t4" x="2041" y="2456.7"><tspan x="2041">三、夯实基础，注重学科内的知识联系，形成</tspan><tspan x="2041" dy="14.4">知识网络</tspan></text></g>
<g id="b4-s3-1"><rect class="n4" x="2285" y="2370" width="228" height="178" rx="4"/><text class="f t4" x="2291" y="2383.7"><tspan x="2291">在基础知识的复习中我们要注重让学生从整体</tspan><tspan x="2291" dy="14.4">上把握学科的主体知识，注重各知识点之间的</tspan><tspan x="2291" dy="14.4">联系，要引导学生及时归纳总结，构建政治学</tspan><tspan x="2291" dy="14.4">知识的网络体系。例如光合作用是一个知识点</tspan><tspan x="2291" dy="14.4">，它的内涵包括光合作用的概念、条件、场所</tspan><tspan x="2291" dy="14.4">、意义和过程、反应式等。把光合作用与叶绿</tspan><tspan x="2291" dy="14.4">体的结构和功能，与呼吸作用、生态系统的物</tspan><tspan x="2291" dy="14.4">质循环和能量流动、水分代谢及矿质代谢(从</tspan><tspan x="2291" dy="14.4">光合作用的原料、酶的组成、ATP的组成等方</tspan><tspan x="2291" dy="14.4">面看)等知识有机地联系起来才是一个知识网</tspan><tspan x="2291" dy="14.4">。对基础知识的复习要达到精确、精巧、精炼</tspan><tspan x="2291" dy="14.4">，同化为自己的东西。</tspan></text></g>
<g id="b4-s4"><rect class="n4" x="2035" y="2667" width="229" height="38" rx="4"/><text class="f t4" x="2041" y="2682.7"><tspan x="2041">四、根据特定的学情创新教学方法，提高教学</tspan><tspan x="2041" dy="14.4">质量</tspan></text></g>
<g id="b4-s4-1"><rect class="n4" x="2285" y="2573" width="228" height="52" rx="4"/><text class="f t4" x="2291" y="2588.5"><tspan x="2291">1、创设情境，激发学生学习兴趣。充分利用</tspan><tspan x="2291" dy="14.4">教材，精心创设学生熟悉的情境，激发学生学</tspan><tspan x="2291" dy="14.4">习的兴趣。</tspan></text></g>
<g id="b4-s4-2"><rect class="n4" x="2285" y="2649" width="228" height="67" rx="4"/><text class="f t4" x="2291" y="2664.8"><tspan x="2291">2、紧密联系政治实际。高中政治虽然抽象但</tspan><tspan x="2291" dy="14.4">与政治实际联系紧密。在现实政治中寻找政治</tspan><tspan x="2291" dy="14.4">题材，激发学生学习兴趣，让教学贴近政治，</tspan><tspan x="2291" dy="14.4">让学生在政治中看到政治学习的重要性。</tspan></text></g>
<g id="b4-s4-3"><rect class="n4" x="2285" y="2739" width="228" height="67" rx="4"/><text class="f t4" x="2291" y="2754.8"><tspan x="2291">3、开展讨论与互评活动，培养学生的创新和</tspan><tspan x="2291" dy="14.4">合作精神。让每个学生都有参与活动的机会，</tspan><tspan x="2291" dy="14.4">使学生在互评中学习，在讨论中思维，在讨论</tspan><tspan x="2291" dy="14.4">中探索，在讨论中提高。</tspan></text></g>
<g id="b4-s5"><rect class="n4" x="2035" y="2907" width="185" height="24" rx="4"/><text class="f t4" x="2041" y="2922.9">五、积极落实新课改理念，活跃课堂</text></g>
<g id="b4-s5-1"><rect class="n4" x="2241" y="2830" width="228" height="178" rx="4"/><text class="f t4" x="2247" y="2843.7"><tspan x="2247">认真落实"两案七环节"的教学模式，营造高效</tspan><tspan x="2247" dy="14.4">课堂，课前通过对学生做的学案、作业批改，</tspan><tspan x="2247" dy="14.4">发现学生哪些知识还存在盲点、疑点，哪些重</tspan><tspan x="2247" dy="14.4">点知识还需要进一步通过课堂练习加强巩固，</tspan><tspan x="2247" dy="14.4">进而更有针对性的进行备课，针对学生存在的</tspan><tspan x="2247" dy="14.4">共性问题设置成一系列的小问题加以引导提问</tspan><tspan x="2247" dy="14.4">，使学生更好的把握知识，对于重点知识通过</tspan><tspan x="2247" dy="14.4">课堂练习进一步加以巩固，课堂上学生讲解为</tspan><tspan x="2247" dy="14.4">主，教师进一步加以补充归纳的教学模式，进</tspan><tspan x="2247" dy="14.4">一步活跃课堂，调动学生的积极性，使学生的</tspan><tspan x="2247" dy="14.4">表达能力、分析问题和解决问题的能力进一步</tspan><tspan x="2247" dy="14.4">得到提升，提高课堂效率。</tspan></text></g>
<g id="b4-s6"><rect class="n4" x="2035" y="3074" width="174" height="24" rx="4"/><text class="f t4" x="2041" y="3089.9">六、积极参加听课研讨，取长补短</text></g>
<g id="b4-s6-1"><rect class="n4" x="2230" y="3033" width="229" height="107" rx="4"/><text class="f t4" x="2236" y="3047.2"><tspan x="2236">积极听学校组织的教师的公开课，听完课后，</tspan><tspan x="2236" dy="14.4">我们专门针对课堂教学的有效性，以及每个章</tspan><tspan x="2236" dy="14.4">节难点还有教学过程中遇到的困惑等进行认真</tspan><tspan x="2236" dy="14.4">交流探讨，我们互相交换意见，对课堂中存在</tspan><tspan x="2236" dy="14.4">的问题，以及如何进行改进进行讨论，取长补</tspan><tspan x="2236" dy="14.4">短。这样坚持下来，效果还是比较好，使得自</tspan><tspan x="2236" dy="14.4">身的教学水平得到不断的提高。</tspan></text></g>

<!-- Branch 5 -->
<g id="b5"><rect x="1022" y="3177" width="207" height="31" rx="15.5" fill="#4cb8ef"/><text class="pt" x="1125.5" y="3197.5" fill="#143246" text-anchor="middle">政治教学个人工作总结模板5</text></g>
<g id="b5-l1"><rect class="n5" x="772" y="2821" width="229" height="52" rx="4"/><text class="f t5" x="778" y="2836.5"><tspan x="778">本学期，本人担任初二级六个班的政治科任。</tspan><tspan x="778" dy="14.4">一学期来，本人自始至终以认真、严谨的治学</tspan><tspan x="778" dy="14.4">态度，勤恳、坚持不懈的精神从事教学工作。</tspan></text></g>
<g id="b5-l2"><rect class="n5" x="772" y="2898" width="229" height="163" rx="4"/><text class="f t5" x="778" y="2911.4"><tspan x="778">作为科任，能认真制定计划，注重研究中学教</tspan><tspan x="778" dy="14.4">学理论，认真备课和教学，积极参加科组活动</tspan><tspan x="778" dy="14.4">和备课组活动，上好公开课和平衡课，并能经</tspan><tspan x="778" dy="14.4">常听各老师的课，从中吸取教学经验，取长补</tspan><tspan x="778" dy="14.4">短，提高自己的教学的业!务水平。每节课都</tspan><tspan x="778" dy="14.4">以最佳的精神状态站在教坛，以和蔼、轻松、</tspan><tspan x="778" dy="14.4">认真的形象去面对学生。按照「初中思想政治</tspan><tspan x="778" dy="14.4">课程标准」进行施教，让学生掌握好科学知识</tspan><tspan x="778" dy="14.4">。还注意以德为本，结合现实政治中的现象层</tspan><tspan x="778" dy="14.4">层善诱，多方面、多角度去培养现实良好的品</tspan><tspan x="778" dy="14.4">德和高尚的人格。</tspan></text></g>
<g id="b5-l3"><rect class="n5" x="772" y="3085" width="229" height="248" rx="4"/><text class="f t5" x="778" y="3097.7"><tspan x="778">教育是爱心事业，为培养高素质的下一代，本</tspan><tspan x="778" dy="14.4">人时刻从现实身心健康，根据学生的个性特点</tspan><tspan x="778" dy="14.4">去点拨引导，对于个别差生，利用课间多次倾</tspan><tspan x="778" dy="14.4">谈，鼓励其确立正确的学习态度，积极面对人</tspan><tspan x="778" dy="14.4">生，而对优生，教育其戒骄戒躁努力向上，再</tspan><tspan x="778" dy="14.4">接再厉，再创佳绩。通过现实政治中的典范，</tspan><tspan x="778" dy="14.4">让学生树立自觉地从德、智、体、美、劳全方</tspan><tspan x="778" dy="14.4">面去发展自己的观念，树立崇高远大的理想。</tspan><tspan x="778" dy="14.4"> 作为教初二政治课的老师，明白自己对教材</tspan><tspan x="778" dy="14.4">的生疏，故在课前做到认真备课，多方面去搜</tspan><tspan x="778" dy="14.4">集相关进行资料。为提高每节课的进行效果，</tspan><tspan x="778" dy="14.4">教学质量，本人除注重研究教材，把握好基础</tspan><tspan x="778" dy="14.4">、重点难点外，还采用多媒体教学，如：投影</tspan><tspan x="778" dy="14.4">、幻灯、漫画、录音等多样形式。通过培养学</tspan><tspan x="778" dy="14.4">生学习政治的兴趣，调动学生学习的积极性、</tspan><tspan x="778" dy="14.4">主动性，提高课堂的教学质量，按时完成教学</tspan><tspan x="778" dy="14.4">任务。</tspan></text></g>
<g id="b5-l4"><rect class="n5" x="772" y="3358" width="229" height="122" rx="4"/><text class="f t5" x="778" y="3372.5"><tspan x="778">通过一学期努力，能制定好复习计划，并能认</tspan><tspan x="778" dy="14.4">真备好复习课，培养好尖子生，提高中等生，</tspan><tspan x="778" dy="14.4">帮助差生。但由于本学期授课时间较短，复习</tspan><tspan x="778" dy="14.4">内容较多，复习比较仓促，同时发觉很大一部</tspan><tspan x="778" dy="14.4">分学生接!受能力较差，学习自觉性不高。加</tspan><tspan x="778" dy="14.4">上本人对教材生疏，同时要到广州进修本科，</tspan><tspan x="778" dy="14.4">无暇顾及六个班面积较广的差生，致使本学期</tspan><tspan x="778" dy="14.4">教学成绩未达所想。</tspan></text></g>
<g id="b5-l5"><rect class="n5" x="772" y="3505" width="229" height="65" rx="4"/><text class="f t5" x="778" y="3519.8"><tspan x="778">在以后的教学工作中，要不断总结经验，力求</tspan><tspan x="778" dy="14.4">提高自己的教学水平，还要多下功夫加强对个</tspan><tspan x="778" dy="14.4">别差生的辅导，相信一切问题都会迎刃而解，</tspan><tspan x="778" dy="14.4">我也相信有耕耘总会有收获!</tspan></text></g>

<!-- Branch 6 -->
<g id="b6"><rect x="1557" y="3367" width="269" height="51" rx="25.5" fill="#4dca8b"/><text class="pt" x="1583" y="3390" fill="#163a28"><tspan x="1583">政治教学个人工作总结模板相关文</tspan><tspan x="1583" dy="18">章:</tspan></text></g>
<g id="b6-1"><rect class="n6" x="1847" y="3164" width="170" height="25" rx="4"/><text class="f t6" x="1853" y="3180.5">★ 政治教学工作总结心得范文5篇</text></g>
<g id="b6-2"><rect class="n6" x="1847" y="3213" width="170" height="25" rx="4"/><text class="f t6" x="1853" y="3229.5">★ 政治教学心得工作总结范文5篇</text></g>
<g id="b6-3"><rect class="n6" x="1847" y="3261" width="170" height="25" rx="4"/><text class="f t6" x="1853" y="3277.5">★ 高中政治教学工作总结范文5篇</text></g>
<g id="b6-4"><rect class="n6" x="1847" y="3309" width="174" height="25" rx="4"/><text class="f t6" x="1853" y="3325.5">★ 政治教师教学工作个人总结范文</text></g>
<g id="b6-5"><rect class="n6" x="1847" y="3357" width="153" height="25" rx="4"/><text class="f t6" x="1853" y="3373.5">★ 思想政治方面个人总结范本</text></g>
<g id="b6-6"><rect class="n6" x="1847" y="3406" width="153" height="25" rx="4"/><text class="f t6" x="1853" y="3422.5">★ 思想政治方面工作总结例文</text></g>
<g id="b6-7"><rect class="n6" x="1847" y="3454" width="164" height="25" rx="4"/><text class="f t6" x="1853" y="3470.5">★ 简短的个人工作总结范文大全</text></g>
<g id="b6-8"><rect class="n6" x="1847" y="3502" width="200" height="25" rx="4"/><text class="f t6" x="1853" y="3518.5">★ 教师年度个人工作总结2021最新范文</text></g>
<g id="b6-9"><rect class="n6" x="1847" y="3551" width="179" height="25" rx="4"/><text class="f t6" x="1853" y="3567.5">★ 2021政治教师个人思想总结范文</text></g>
<g id="b6-10"><rect class="n6" x="1847" y="3599" width="206" height="25" rx="4"/><text class="f t6" x="1853" y="3615.5">★ 2021年教师教学工作总结个人范例5篇</text></g>
</svg>
